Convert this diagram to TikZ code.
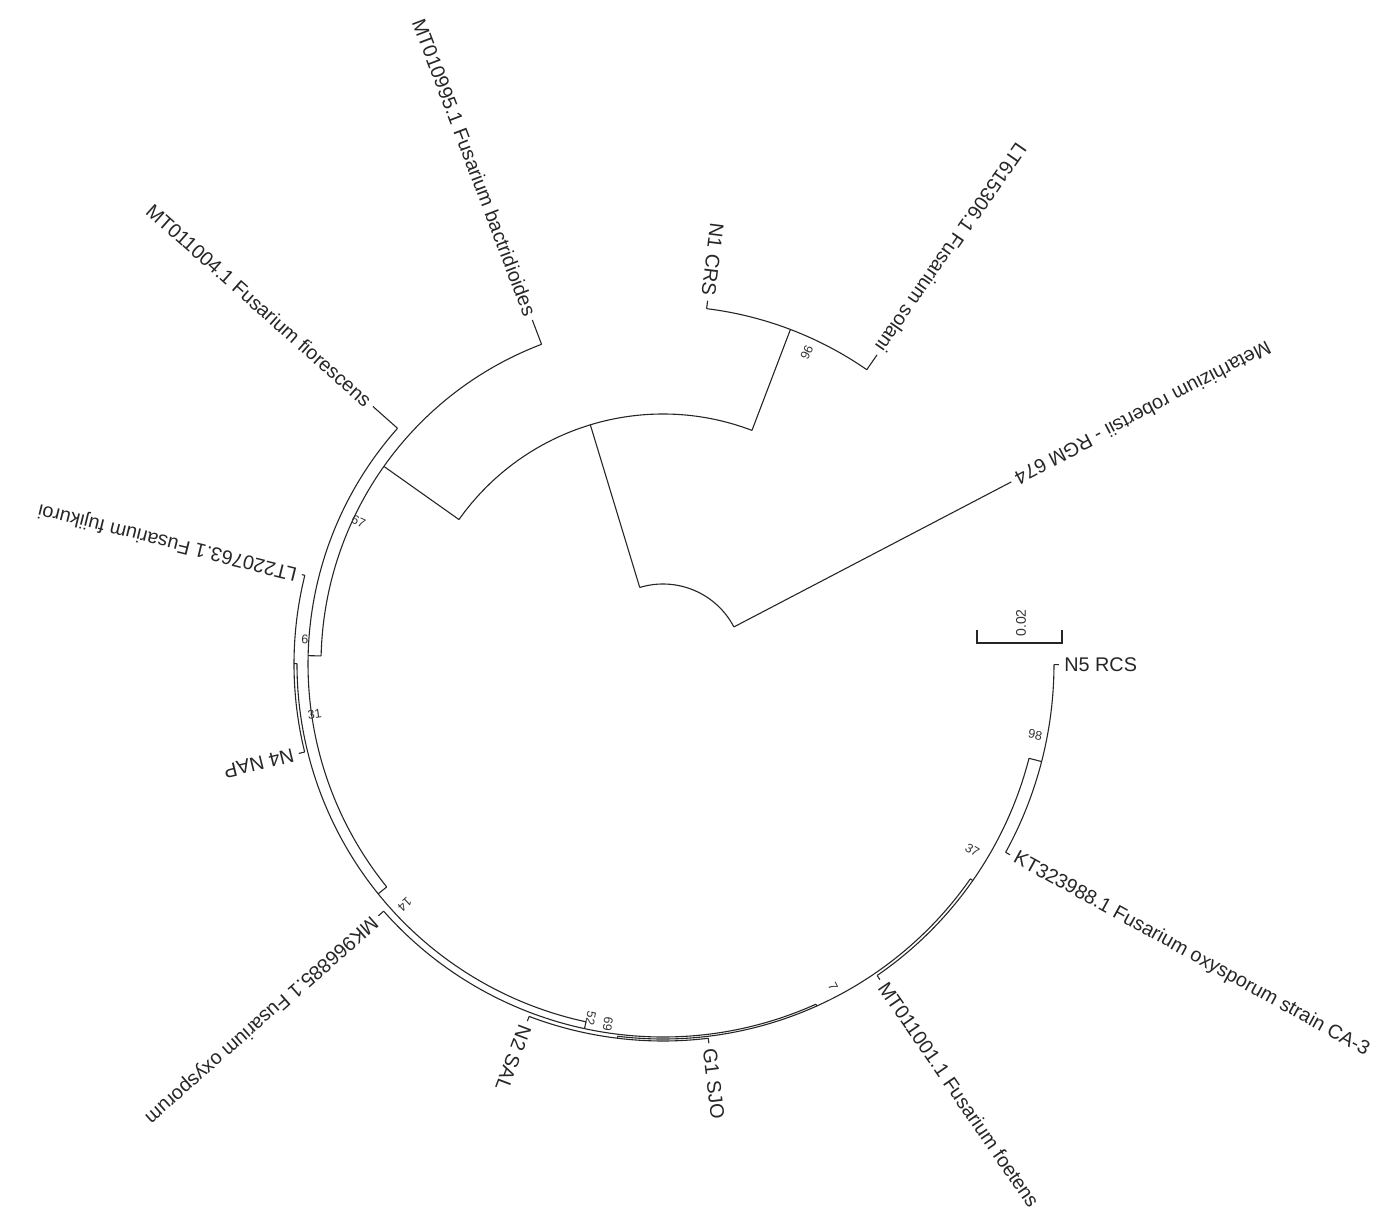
\documentclass[tikz,border=0pt]{standalone}
\usepackage{fontspec}
\setmainfont{Liberation Sans}
\usepackage{tikz}

\tikzset{
  branch/.style={line width=0.55pt, black!85},
  taxon/.style={font=\fontsize{9.9}{12}\selectfont, inner sep=2.5pt, text=black!85},
  boot/.style={font=\fontsize{6.3}{7}\selectfont, inner sep=0pt, text=black!80},
}

\begin{document}
\begin{tikzpicture}[x=0.5pt, y=0.5pt]
    \useasboundingbox (-663,-553) rectangle (719,664);

    % arcs of the clades (start/end/radius)
    \foreach \s/\e/\r in {27.6/106.9/80, 69.15/144.7/250, 55.3/83/358, 110.8/178.65/342,
                          138.4/218.9/355, 179.95/257.85/366, 166.1/193.8/369, 221.5/294.2/373,
                          263.05/325.05/375, 249.2/276.9/377, 304.5/345.55/378, 331.2/359.9/391}
        \draw[branch] (\s:\r) arc[start angle=\s, end angle=\e, radius=\r];

    % inner branches
    \foreach \a/\f/\t/\n in {106.9/80/250/A, 69.15/250/358/n96, 144.7/250/342/B, 178.65/342/355/n6,
                             218.9/355/366/n14, 179.95/366/369/n31, 257.85/366/373/n52,
                             294.2/373/375/n7, 263.05/375/377/n69, 325.05/375/378/n37, 345.55/378/391/n98}
        \draw[branch] (\a:\f) coordinate (\n-base) -- (\a:\t) coordinate (\n);

    % taxa, labels reading outwards
    \foreach \a/\f/\t/\n/\txt in {166.1/369/372/tLTfuj/LT220763.1 Fusarium fujikuroi,
                                  193.8/369/375/tN4/N4 NAP,
                                  221.5/373/380/tMKoxy/MK966885.1 Fusarium oxysporum,
                                  249.2/377/382/tN2/N2 SAL,
                                  276.9/377/382/tG1/G1 SJO,
                                  304.5/378/383/tMTfoe/MT011001.1 Fusarium foetens,
                                  331.2/391/396/tKT/KT323988.1 Fusarium oxysporum strain CA-3,
                                  359.9/391/396/tN5/N5 RCS} {
        \draw[branch] (\a:\f) -- (\a:\t) coordinate (\n);
        \node[taxon, rotate=\a, anchor=west] (l-\n) at (\n) {\txt};
    }

    % taxa, labels reading inwards
    \foreach \a/\f/\t/\n/\txt in {27.6/80/393/tMet/Metarhizium robertsii - RGM 674,
                                  55.3/358/376/tLTsol/LT615306.1 Fusarium solani,
                                  83.0/358/366/tN1/N1 CRS,
                                  110.8/342/368/tMTbac/MT010995.1 Fusarium bactridioides,
                                  138.4/355/388/tMTfio/MT011004.1 Fusarium fiorescens} {
        \draw[branch] (\a:\f) -- (\a:\t) coordinate (\n);
        \node[taxon, rotate=\a+180, anchor=east] (l-\n) at (\n) {\txt};
    }

    % bootstrap values
    \node[boot, rotate=245.2] (bs96) at (65.2:343) {96};
    \node[boot, rotate=-25]   (bs67) at (155:336) {67};
    \node[boot, rotate=-4]    (bs6)  at (176:359) {6};
    \node[boot, rotate=8.2]   (bs31) at (188.2:352) {31};
    \node[boot, rotate=223]   (bs14) at (223:353) {14};
    \node[boot, rotate=258.5] (bs52) at (258.5:362) {52};
    \node[boot, rotate=261.3] (bs69) at (261.3:364) {69};
    \node[boot, rotate=-62]   (bs7)  at (297.8:365) {7};
    \node[boot, rotate=-31]   (bs37) at (329:361) {37};
    \node[boot, rotate=-10.8] (bs98) at (349.2:379) {98};

    % scale bar
    \coordinate (sb-l) at (314,21);
    \coordinate (sb-r) at (399,21);
    \draw[branch] ([yshift=6.5pt]sb-l) -- (sb-l) -- (sb-r) -- ([yshift=6.5pt]sb-r);
    \node[boot, rotate=90, font=\fontsize{7}{8}\selectfont] (sb-txt) at (358,41) {0.02};
\end{tikzpicture}
\end{document}
